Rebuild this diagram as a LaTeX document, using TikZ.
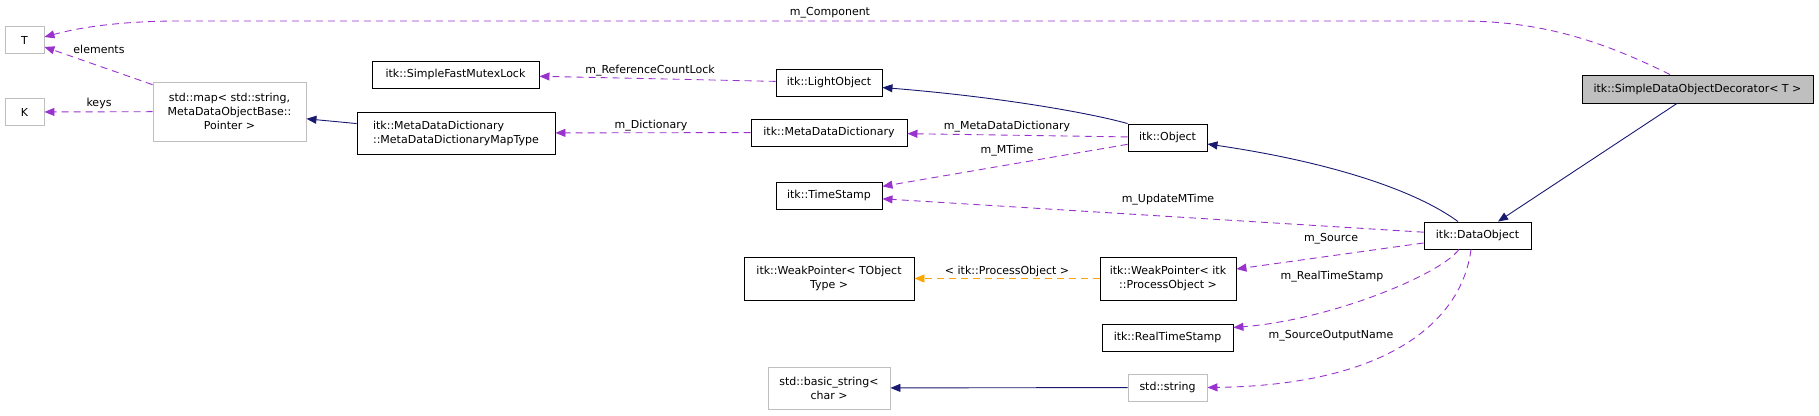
\documentclass[tikz,border=0pt]{standalone}
\usepackage{fontspec}
\setmainfont{DejaVu Sans}
\usetikzlibrary{arrows.meta}
\definecolor{edgepurple}{HTML}{9A32CD}
\definecolor{inhblue}{HTML}{191970}
\definecolor{tmplorange}{HTML}{FFA500}
\definecolor{extgray}{HTML}{BFBFBF}
\begin{document}
\begin{tikzpicture}[x=1pt,y=-1pt,font=\fontsize{11}{14}\selectfont,
  cls/.style={draw=black,line width=0.9pt,inner sep=0pt,minimum height=27pt},
  extcls/.style={cls,draw=extgray},
  curcls/.style={cls,fill=extgray},
  uses/.style={edgepurple,line width=0.9pt,dash pattern=on 7pt off 5pt,-{Triangle[length=10pt,width=8pt]}},
  inherits/.style={inhblue,line width=0.9pt,-{Triangle[length=10pt,width=8pt]}},
  tmpl/.style={uses,tmplorange}]
\useasboundingbox (0,0) rectangle (1819,415);
% classes
\node[extcls,minimum width=39pt] (t) at (24.5,40) {T};
\node[extcls,minimum width=39pt] (k) at (24.5,112) {K};
\node[extcls,minimum width=153pt,minimum height=59pt,align=center] (stdmap) at (229.5,111.5) {std::map< std::string,\\MetaDataObjectBase::\\Pointer >};
\node[cls,minimum width=167pt] (mutex) at (455.5,74.5) {itk::SimpleFastMutexLock};
\node[cls,minimum width=198pt,minimum height=42pt,align=left] (maptype) at (456,133) {itk::MetaDataDictionary\\::MetaDataDictionaryMapType};
\node[cls,minimum width=106pt] (lightobj) at (829,82.5) {itk::LightObject};
\node[cls,minimum width=156pt] (mdd) at (829,132.5) {itk::MetaDataDictionary};
\node[cls,minimum width=106pt] (timestamp) at (829,195.5) {itk::TimeStamp};
\node[cls,minimum width=170pt,minimum height=43pt,align=center] (wpobj) at (829,278.5) {itk::WeakPointer< TObject\\Type >};
\node[extcls,minimum width=122pt,minimum height=42pt,align=center] (basicstr) at (829,388) {std::basic\_string<\\char >};
\node[cls,minimum width=79pt] (object) at (1167.5,137.5) {itk::Object};
\node[cls,minimum width=136pt,minimum height=43pt,align=center] (wpproc) at (1168,278.5) {itk::WeakPointer< itk\\::ProcessObject >};
\node[cls,minimum width=131pt] (realts) at (1167.5,337.5) {itk::RealTimeStamp};
\node[extcls,minimum width=79pt] (stdstr) at (1167.5,387.5) {std::string};
\node[cls,minimum width=107pt] (dataobj) at (1477.5,235.5) {itk::DataObject};
\node[curcls,minimum width=231pt,minimum height=28pt] (sdod) at (1697.5,89) {itk::SimpleDataObjectDecorator< T >};
% members
\draw[uses] ([xshift=-27.5pt]sdod.north) .. controls (1600,40) and (1540,21) .. (1460,21) -- (180,21) .. controls (110,21) and (70,30) .. ([yshift=3pt]t.east);
\draw[uses] (stdmap) -- (t);
\draw[uses] (stdmap) -- (k);
\draw[uses] (lightobj) -- (mutex);
\draw[uses] (mdd) -- (maptype);
\draw[uses] (object) -- (mdd);
\draw[uses] (object) -- (timestamp);
\draw[uses] (dataobj) -- (timestamp);
\draw[uses] (dataobj) -- (wpproc);
\draw[uses] ([xshift=-18.5pt]dataobj.south) .. controls (1440,275) and (1330,320) .. ([yshift=10pt]realts.east);
\draw[uses] ([xshift=-6.5pt]dataobj.south) .. controls (1462,320) and (1390,385) .. (stdstr.east);
\draw[tmpl] (wpproc) -- (wpobj);
% bases
\draw[inherits] (maptype) -- (stdmap);
\draw[inherits] (object.north west) .. controls (1090,113) and (1000,97) .. ([yshift=-5pt]lightobj.east);
\draw[inherits] ([xshift=-19.5pt]dataobj.north) .. controls (1415,190) and (1330,162) .. ([yshift=-6.5pt]object.east);
\draw[inherits] ([xshift=-20.5pt]sdod.south) -- ([xshift=20.5pt]dataobj.north);
\draw[inherits] (stdstr) -- (basicstr);
% labels
\node (lcomp) at (830,13) {m\_Component};
\node (lelem) at (99,49) {elements};
\node (lkeys) at (99,103.5) {keys};
\node (lrefc) at (650,71) {m\_ReferenceCountLock};
\node (ldict) at (651,126) {m\_Dictionary};
\node (lmdd) at (1007,127) {m\_MetaDataDictionary};
\node (lmtime) at (1007,151) {m\_MTime};
\node (lupd) at (1168,200) {m\_UpdateMTime};
\node (lsrc) at (1331,239) {m\_Source};
\node (lrts) at (1332,277) {m\_RealTimeStamp};
\node (lson) at (1331,336) {m\_SourceOutputName};
\node (lproc) at (1007,271) {< itk::ProcessObject >};
\end{tikzpicture}
\end{document}
